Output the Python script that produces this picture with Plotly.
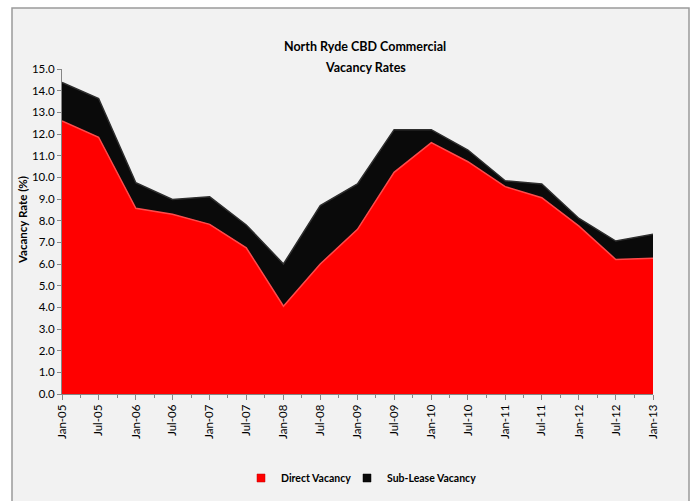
import plotly.graph_objects as go

dates = ["2005-01-01", "2005-07-01", "2006-01-01", "2006-07-01", "2007-01-01", "2007-07-01",
         "2008-01-01", "2008-07-01", "2009-01-01", "2009-07-01", "2010-01-01", "2010-07-01",
         "2011-01-01", "2011-07-01", "2012-01-01", "2012-07-01", "2013-01-01"]
direct = [12.6, 11.85, 8.57, 8.3, 7.83, 6.75, 4.05, 6.0, 7.6, 10.23, 11.6, 10.72,
          9.57, 9.06, 7.75, 6.21, 6.26]
total = [14.38, 13.64, 9.75, 8.98, 9.1, 7.8, 6.0, 8.7, 9.7, 12.2, 12.2, 11.26,
         9.84, 9.69, 8.1, 7.06, 7.37]
sublease = [round(t - d, 2) for t, d in zip(total, direct)]
series_names = ["Direct Vacancy", "Sub-Lease Vacancy"]
title_lines = ["North Ryde CBD Commercial", "Vacancy Rates"]
y_title = "Vacancy Rate (%)"

W, H = 692, 501
L, R, T, B = 62, 39, 69, 107
pw, ph = W - L - R, H - T - B

def px_x(p):
    return (p - L) / pw

def px_y(p):
    return (H - B - p) / ph

font = "Lato, 'Open Sans', sans-serif"

fig = go.Figure()
fig.add_trace(go.Scatter(x=dates, y=direct, name=series_names[0], stackgroup="one",
                         mode="lines", line=dict(color="#ff4a4a", width=1.5),
                         fillcolor="#ff0000", showlegend=False))
fig.add_trace(go.Scatter(x=dates, y=sublease, name=series_names[1], stackgroup="one",
                         mode="lines", line=dict(color="#2e2e2e", width=1.5),
                         fillcolor="#0a0a0a", showlegend=False))
# legend swatches
fig.add_trace(go.Scatter(x=[None], y=[None], mode="markers", name="<b>" + series_names[0] + "</b>",
                         legend="legend",
                         marker=dict(symbol="square", size=8, color="#ff0000",
                                     line=dict(color="#c00000", width=0.5))))
fig.add_trace(go.Scatter(x=[None], y=[None], mode="markers", name="<b>" + series_names[1] + "</b>",
                         legend="legend2",
                         marker=dict(symbol="square", size=8, color="#0a0a0a",
                                     line=dict(color="#000", width=0.5))))

fig.add_shape(type="rect", xref="paper", yref="paper",
              x0=px_x(12), x1=px_x(689), y0=px_y(520), y1=px_y(8),
              fillcolor="#f2f2f2", line=dict(color="#9a9a9a", width=1.5), layer="below")

fig.add_annotation(text="<b>" + title_lines[0] + "</b>", xref="paper", yref="paper",
                   x=px_x(365), y=px_y(47), showarrow=False, xanchor="center", yanchor="middle",
                   font=dict(size=12.5, family=font, color="#000"))
fig.add_annotation(text="<b>" + title_lines[1] + "</b>", xref="paper", yref="paper",
                   x=px_x(365), y=px_y(67), showarrow=False, xanchor="center", yanchor="middle",
                   font=dict(size=12.5, family=font, color="#000"))
fig.add_annotation(text="<b>" + y_title + "</b>", xref="paper", yref="paper",
                   x=px_x(22), y=px_y(220), showarrow=False, xanchor="center", yanchor="middle",
                   textangle=-90, font=dict(size=11.5, family=font, color="#000"))

legend_common = dict(orientation="h", xanchor="left", y=px_y(478), yanchor="middle",
                     font=dict(size=10.5, family=font, color="#000"), bgcolor="rgba(0,0,0,0)",
                     itemwidth=30)

fig.update_layout(
    width=W, height=H,
    margin=dict(l=L, r=R, t=T, b=B, autoexpand=False),
    paper_bgcolor="white", plot_bgcolor="rgba(0,0,0,0)",
    font=dict(family=font, size=11, color="#000"),
    showlegend=True,
    legend=dict(x=px_x(241), **legend_common),
    legend2=dict(x=px_x(347), **legend_common),
    xaxis=dict(type="date", range=["2005-01-01", "2013-01-01"], tickformat="%b-%y",
               dtick="M6", tick0="2005-01-01", tickangle=-90, ticks="outside", ticklen=5,
               tickcolor="#868686", showline=True, linecolor="#868686", linewidth=1,
               showgrid=False, zeroline=False, tickfont=dict(size=11.5, family=font),
               automargin=False,
               minor=dict(dtick="M3", ticks="outside", ticklen=3, tickcolor="#868686",
                          showgrid=False)),
    yaxis=dict(range=[0, 15], dtick=1, tickformat=".1f", ticks="outside", ticklen=4,
               tickcolor="#868686", showline=True, linecolor="#868686", linewidth=1,
               showgrid=False, zeroline=False, tickfont=dict(size=11.5, family=font),
               automargin=False),
)

fig.write_html("out.html", config={"displayModeBar": False},
               post_script="document.body.style.margin='0';document.body.style.overflow='hidden';")
